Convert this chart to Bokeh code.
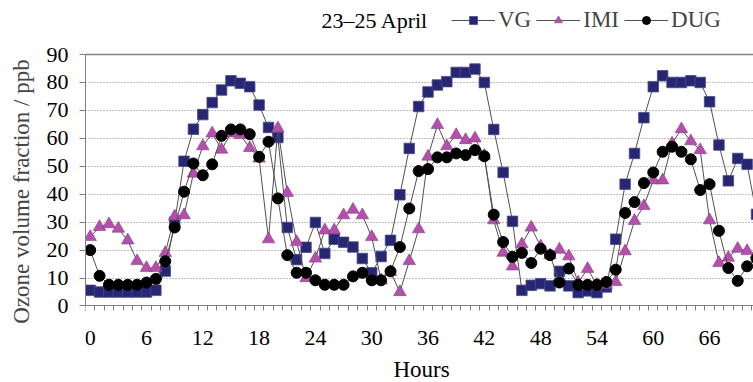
from bokeh.plotting import figure
from bokeh.models import (ColumnDataSource, FixedTicker, Legend, LegendItem, Span, Range1d, Label)
from bokeh.embed import file_html
from bokeh.resources import INLINE

hours = list(range(72))
vg = [5.6, 5, 5, 5, 5, 5, 5, 5.6, 12.5, 30, 51.8, 63.3, 68.5, 72.8, 77.3, 80.6, 79.7, 78.5, 71.9, 63.9,
      60.3, 28.1, 16.6, 21, 29.9, 18.8, 23.9, 22.8, 21.1, 17, 11.9, 17.7, 23.5, 39.8, 56.4, 71.4, 76.6, 79.1,
      80.3, 83.6, 83.6, 84.8, 80, 63.2, 47.8, 30.3, 5.6, 7.4, 8, 7.2, 12.4, 7.2, 4.8, 5.4, 4.8, 6.8, 23.9,
      43.6, 54.6, 67.4, 78.5, 82.4, 80, 80, 80.6, 80, 73.1, 57.6, 44.8, 52.8, 50.7, 32.8]
imi = [24.7, 28.3, 29.3, 27.7, 23.5, 16.1, 13.6, 13.6, 19, 32.1, 32.5, 47.4, 57.2, 61.8, 56, 61.8, 61.2, 56.6,
       52.8, 23.9, 63.6, 40.5, 22.9, 10, 17, 27.1, 27.1, 32.5, 34.5, 32.5, 24.7, 9.2, 12.2, 5, 16.1, 27.5, 53.5,
       64.8, 57.2, 61.2, 59.4, 60, 53.8, 30.7, 19.1, 14.2, 22.1, 28.1, 21.4, 18.2, 20.2, 17.8, 8.4, 13.3, 7.6,
       7.6, 8.6, 19.6, 30.5, 35.8, 45, 45, 58.2, 63.3, 59, 55.8, 30.7, 15.4, 17.3, 20.5, 19.7, 18.5]
dug = [20, 10.8, 7.6, 7.6, 7.6, 7.6, 8.4, 9.7, 16, 28.1, 40.9, 51, 46.8, 50.7, 60.9, 63.2, 63.2, 61.5, 53.4,
       58.8, 38.5, 18.2, 11.9, 11.9, 9.2, 7.6, 7.6, 7.6, 10.6, 11.9, 9.2, 9.2, 12.4, 21.1, 34.9, 48.3, 49, 53.2,
       53.2, 54.6, 54, 55.8, 53.6, 32.7, 22.9, 17.6, 19, 15.4, 20.5, 18.2, 8.4, 13.4, 7.6, 7.6, 7.6, 8.6, 13,
       33.3, 37.2, 44, 47.8, 55.2, 57, 55.2, 52.5, 41.5, 43.6, 26.9, 13.6, 9, 14.2, 17]
x_tick_labels = [0, 6, 12, 18, 24, 30, 36, 42, 48, 54, 60, 66]
y_ticks = [0, 10, 20, 30, 40, 50, 60, 70, 80, 90]

FONT = "Liberation Serif"
source = ColumnDataSource(dict(h=hours, vg=vg, imi=imi, dug=dug))

# the frame fills the canvas height; the x axis sits at y = 0 inside it
p = figure(width=753, height=382, output_backend="svg", toolbar_location=None,
           x_range=Range1d(-0.5, 70.68), y_range=Range1d(-27.38, 109.34),
           min_border_left=85, min_border_right=0, min_border_top=0, min_border_bottom=0)
p.outline_line_color = None
p.background_fill_color = "white"

# axes
xa = p.xaxis[0]
xa.fixed_location = 0
xa.ticker = FixedTicker(ticks=x_tick_labels, minor_ticks=[i - 0.5 for i in range(74)])
xa.major_tick_out = 0
xa.major_tick_in = 0
xa.minor_tick_out = 5
xa.minor_tick_in = 0
xa.axis_line_color = "#808080"
xa.minor_tick_line_color = "#808080"
xa.major_label_text_font = FONT
xa.major_label_text_font_size = "22px"
xa.major_label_text_color = "black"
xa.major_label_standoff = 20

ya = p.yaxis[0]
ya.ticker = FixedTicker(ticks=y_ticks)
ya.bounds = (0, 90)
ya.major_tick_out = 6
ya.major_tick_in = 0
ya.minor_tick_out = 0
ya.axis_line_color = "#808080"
ya.major_tick_line_color = "#808080"
ya.major_label_text_font = FONT
ya.major_label_text_font_size = "22px"
ya.major_label_text_color = "black"
ya.major_label_standoff = 11
ya.axis_label = "Ozone volume fraction / ppb"
ya.axis_label_text_font = FONT
ya.axis_label_text_font_size = "23px"
ya.axis_label_text_font_style = "normal"
ya.axis_label_standoff = 10

p.xgrid.grid_line_color = None
p.ygrid.ticker = FixedTicker(ticks=[10, 20, 30, 40, 50, 60, 70, 80])
p.ygrid.grid_line_color = "#808080"
p.ygrid.grid_line_dash = "1 2"
p.ygrid.grid_line_width = 1

p.add_layout(Span(location=90, dimension="width", line_color="#808080", line_width=1.5))

p.add_layout(Label(x=336, y=13, x_units="screen", y_units="screen", text="Hours",
                   text_font=FONT, text_font_size="23px", text_align="center",
                   text_baseline="middle", text_color="black"))

LINE = "#505050"
l1 = p.line("h", "vg", source=source, line_color=LINE, line_width=1)
m1 = p.scatter("h", "vg", source=source, marker="square", size=10.5, fill_color="#262673",
               line_color="#4a4a8a", line_width=0.8)
l2 = p.line("h", "imi", source=source, line_color=LINE, line_width=1)
m2 = p.scatter("h", "imi", source=source, marker="triangle", size=12.5, fill_color="#B44FAB",
               line_color="#8a3a85", line_width=0.6)
l3 = p.line("h", "dug", source=source, line_color=LINE, line_width=1)
m3 = p.scatter("h", "dug", source=source, marker="circle", size=11, fill_color="black",
               line_color="black")

p.add_layout(Label(x=236, y=362, x_units="screen", y_units="screen", text="23\u201325 April",
                   text_font=FONT, text_font_size="22px", text_align="left",
                   text_baseline="middle", text_color="black"))

legend = Legend(items=[LegendItem(label="VG", renderers=[l1, m1]),
                       LegendItem(label="IMI", renderers=[l2, m2]),
                       LegendItem(label="DUG", renderers=[l3, m3])],
                orientation="horizontal", location=(366, 349),
                label_text_font=FONT, label_text_font_size="23px",
                glyph_width=44, glyph_height=20, label_standoff=3, spacing=5,
                padding=0, margin=0, border_line_alpha=0, background_fill_alpha=0)
p.add_layout(legend, "center")

open("out.html", "w").write(file_html(p, INLINE))
